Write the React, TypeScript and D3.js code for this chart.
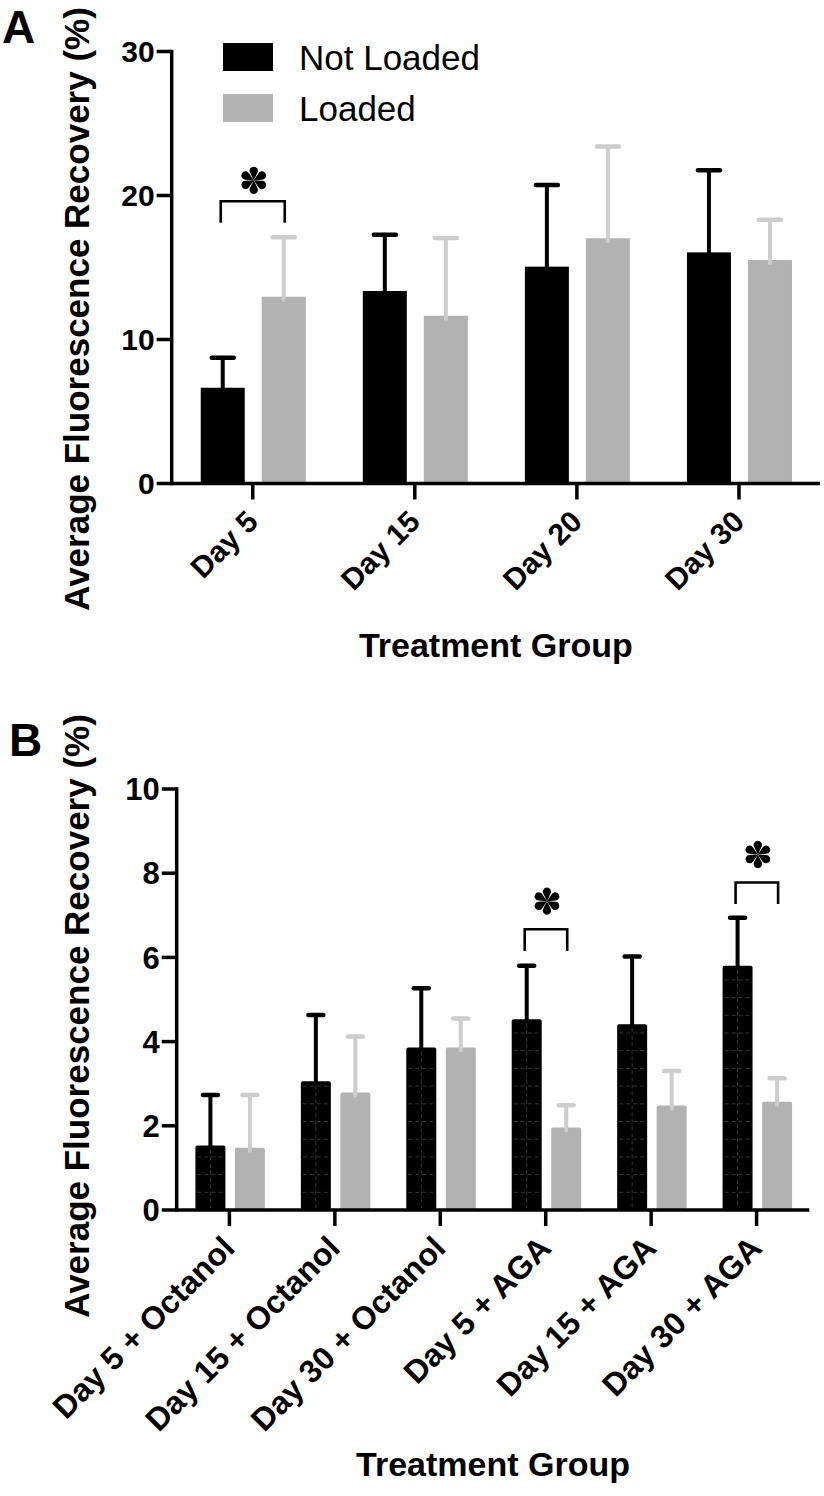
import React from "react";
import * as d3 from "d3";

const FONT = "'Liberation Sans', Arial, Helvetica, sans-serif";

// ---------- Panel A data ----------
const groupsA = ["Day 5", "Day 15", "Day 20", "Day 30"];
const notLoadedA = [6.65, 13.37, 15.06, 16.05];
const notLoadedErrA = [2.09, 3.91, 5.67, 5.7];
const loadedA = [12.97, 11.65, 17.03, 15.52];
const loadedErrA = [4.13, 5.4, 6.37, 2.8];
const ticksA = [0, 10, 20, 30];
const sigA = [{ group: 0, top: 19.6, leg: 18.1 }];

// ---------- Panel B data ----------
const groupsB = [
  "Day 5 + Octanol",
  "Day 15 + Octanol",
  "Day 30 + Octanol",
  "Day 5 + AGA",
  "Day 15 + AGA",
  "Day 30 + AGA",
];
const notLoadedB = [1.53, 3.06, 3.86, 4.53, 4.41, 5.8];
const notLoadedErrB = [1.2, 1.57, 1.41, 1.27, 1.61, 1.14];
const loadedB = [1.48, 2.79, 3.86, 1.96, 2.48, 2.57];
const loadedErrB = [1.25, 1.33, 0.69, 0.53, 0.82, 0.56];
const ticksB = [0, 2, 4, 6, 8, 10];
const sigB = [
  { group: 3, top: 6.67, leg: 6.15 },
  { group: 5, top: 7.78, leg: 7.27 },
];

const seriesNames = ["Not Loaded", "Loaded"];
const yTitle = "Average Fluorescence Recovery (%)";
const xTitle = "Treatment Group";

const BLACK = "#000000";
const GRAY = "#b2b2b2";
const GRAY_ERR = "#cdcdcd";

function Asterisk({ x, y, r }: { x: number; y: number; r: number }) {
  const s = r / 11;
  const petal = `M0,0 L${-3.4 * s},${-7 * s} A${3.8 * s},${3.8 * s} 0 1 1 ${3.4 * s},${-7 * s} Z`;
  return (
    <g transform={`translate(${x},${y})`}>
      {[0, 60, 120, 180, 240, 300].map((a) => (
        <path key={a} d={petal} transform={`rotate(${a})`} fill="#000" />
      ))}
    </g>
  );
}

type PanelProps = {
  groups: string[];
  nl: number[];
  nlErr: number[];
  ld: number[];
  ldErr: number[];
  ticks: number[];
  sig: { group: number; top: number; leg: number }[];
  xRange: [number, number];
  yRange: [number, number];
  yMax: number;
  barW: number;
  blackOff: number;
  grayOff: number;
  capW: number;
  hatch: boolean;
  starDy: number;
  titleY: number;
  titleCenterY: number;
  labelSize: number;
  xLabelSize: number;
  rx: number;
};

function Panel(p: PanelProps) {
  const x = d3.scaleBand<string>().domain(p.groups).range(p.xRange).padding(0);
  const y = d3.scaleLinear().domain([0, p.yMax]).range(p.yRange);
  const axisX = p.xRange[0];
  const axisY = p.yRange[0];
  const c = (g: string) => (x(g) as number) + x.bandwidth() / 2;
  const sw = 3.5;

  return (
    <g>
      {/* bars */}
      {p.groups.map((g, i) => {
        const cx = c(g);
        const bx = cx + p.blackOff;
        const gx = cx + p.grayOff;
        const hatchLines: React.ReactNode[] = [];
        if (p.hatch) {
          const top = y(p.nl[i]);
          for (let yy = axisY - 17.7; yy > top + 4; yy -= 17.7) {
            hatchLines.push(
              <line key={"h" + yy} x1={bx + 2} x2={bx + p.barW - 2} y1={yy} y2={yy}
                stroke="#3c3c3c" strokeWidth={0.9} strokeDasharray="4 3" />
            );
          }
          hatchLines.push(
            <line key="v" x1={bx + p.barW / 2} x2={bx + p.barW / 2} y1={top + 4} y2={axisY}
              stroke="#3c3c3c" strokeWidth={0.9} strokeDasharray="4 3" />
          );
        }
        return (
          <g key={g}>
            <rect x={bx} y={y(p.nl[i])} width={p.barW} height={axisY - y(p.nl[i])} fill={BLACK} rx={p.rx} />
            {hatchLines}
            <rect x={gx} y={y(p.ld[i])} width={p.barW} height={axisY - y(p.ld[i])} fill={GRAY} rx={p.rx} />
          </g>
        );
      })}
      {/* error bars */}
      {p.groups.map((g, i) => {
        const cx = c(g);
        const bxc = cx + p.blackOff + p.barW / 2;
        const gxc = cx + p.grayOff + p.barW / 2;
        return (
          <g key={"e" + g} strokeWidth={4} strokeLinecap="round">
            <line x1={bxc} x2={bxc} y1={y(p.nl[i]) + 1} y2={y(p.nl[i] + p.nlErr[i])} stroke={BLACK} />
            <line x1={bxc - p.capW / 2} x2={bxc + p.capW / 2} y1={y(p.nl[i] + p.nlErr[i])} y2={y(p.nl[i] + p.nlErr[i])} stroke={BLACK} strokeWidth={4.5} />
            <line x1={gxc} x2={gxc} y1={y(p.ld[i]) + 3} y2={y(p.ld[i] + p.ldErr[i])} stroke={GRAY_ERR} />
            <line x1={gxc - p.capW / 2} x2={gxc + p.capW / 2} y1={y(p.ld[i] + p.ldErr[i])} y2={y(p.ld[i] + p.ldErr[i])} stroke={GRAY_ERR} strokeWidth={4.5} />
          </g>
        );
      })}
      {/* significance */}
      {p.sig.map((s) => {
        const g = p.groups[s.group];
        const cx = c(g);
        const x1 = cx + p.blackOff + p.barW / 2 - 2;
        const x2 = cx + p.grayOff + p.barW / 2 + 1;
        const yt = y(s.top);
        const yl = y(s.leg);
        return (
          <g key={"s" + g}>
            <path d={`M${x1},${yl} V${yt} H${x2} V${yl}`} fill="none" stroke="#000" strokeWidth={2.6} />
            <Asterisk x={(x1 + x2) / 2 + 1} y={yt - p.starDy} r={12} />
          </g>
        );
      })}
      {/* axes */}
      <line x1={axisX} x2={axisX} y1={y(p.yMax) - sw / 2} y2={axisY + sw / 2} stroke="#000" strokeWidth={sw} />
      <line x1={axisX} x2={p.xRange[1]} y1={axisY} y2={axisY} stroke="#000" strokeWidth={sw} />
      {p.ticks.map((t) => (
        <g key={"yt" + t}>
          <line x1={axisX - 15} x2={axisX} y1={y(t)} y2={y(t)} stroke="#000" strokeWidth={sw} />
          <text x={axisX - 17} y={y(t)} dy="0.36em" textAnchor="end" fontFamily={FONT}
            fontWeight="bold" fontSize={p.labelSize} fill="#000">{t}</text>
        </g>
      ))}
      {p.groups.map((g) => (
        <g key={"xt" + g}>
          <line x1={c(g)} x2={c(g)} y1={axisY} y2={axisY + 16} stroke="#000" strokeWidth={sw} />
          <text transform={`translate(${c(g) + 7},${axisY + 40}) rotate(-45)`} textAnchor="end"
            fontFamily={FONT} fontWeight="bold" fontSize={p.xLabelSize} fill="#000">{g}</text>
        </g>
      ))}
      <text x={(p.xRange[0] + p.xRange[1]) / 2} y={p.titleY} textAnchor="middle" fontFamily={FONT}
        fontWeight="bold" fontSize={34} fill="#000">{xTitle}</text>
      <text transform={`translate(89,${p.titleCenterY}) rotate(-90)`} textAnchor="middle" fontFamily={FONT}
        fontWeight="bold" fontSize={35} fill="#000">{yTitle}</text>
    </g>
  );
}

export default function App() {
  return (
    <svg width={824} height={1496} viewBox="0 0 824 1496"
      style={{ position: "absolute", left: 0, top: 0, background: "#fff" }}>
      <rect x={0} y={0} width={824} height={1496} fill="#fff" />
      <text x={2} y={43} fontFamily={FONT} fontWeight="bold" fontSize={46} fill="#000">A</text>
      <text x={9} y={756} fontFamily={FONT} fontWeight="bold" fontSize={46} fill="#000">B</text>

      <Panel groups={groupsA} nl={notLoadedA} nlErr={notLoadedErrA} ld={loadedA} ldErr={loadedErrA}
        ticks={ticksA} sig={sigA} xRange={[171.7, 820]} yRange={[483.5, 51.5]} yMax={30}
        barW={44} blackOff={-52} grayOff={9} capW={22} hatch={false} starDy={21}
        titleY={656.7} titleCenterY={309} labelSize={30} xLabelSize={30} rx={0} />

      <Panel groups={groupsB} nl={notLoadedB} nlErr={notLoadedErrB} ld={loadedB} ldErr={loadedErrB}
        ticks={ticksB} sig={sigB} xRange={[176.7, 809.3]} yRange={[1210, 789]} yMax={10}
        barW={30} blackOff={-34} grayOff={5.5} capW={15} hatch={true} starDy={28}
        titleY={1476} titleCenterY={1016} labelSize={31} xLabelSize={32} rx={2} />

      {/* legend */}
      {seriesNames.map((s, i) => (
        <g key={s}>
          <rect x={223} y={43 + i * 51} width={50} height={28} fill={i === 0 ? BLACK : GRAY} />
          <text x={299} y={70 + i * 51} fontFamily={FONT} fontSize={35} fill="#000">{s}</text>
        </g>
      ))}
    </svg>
  );
}
